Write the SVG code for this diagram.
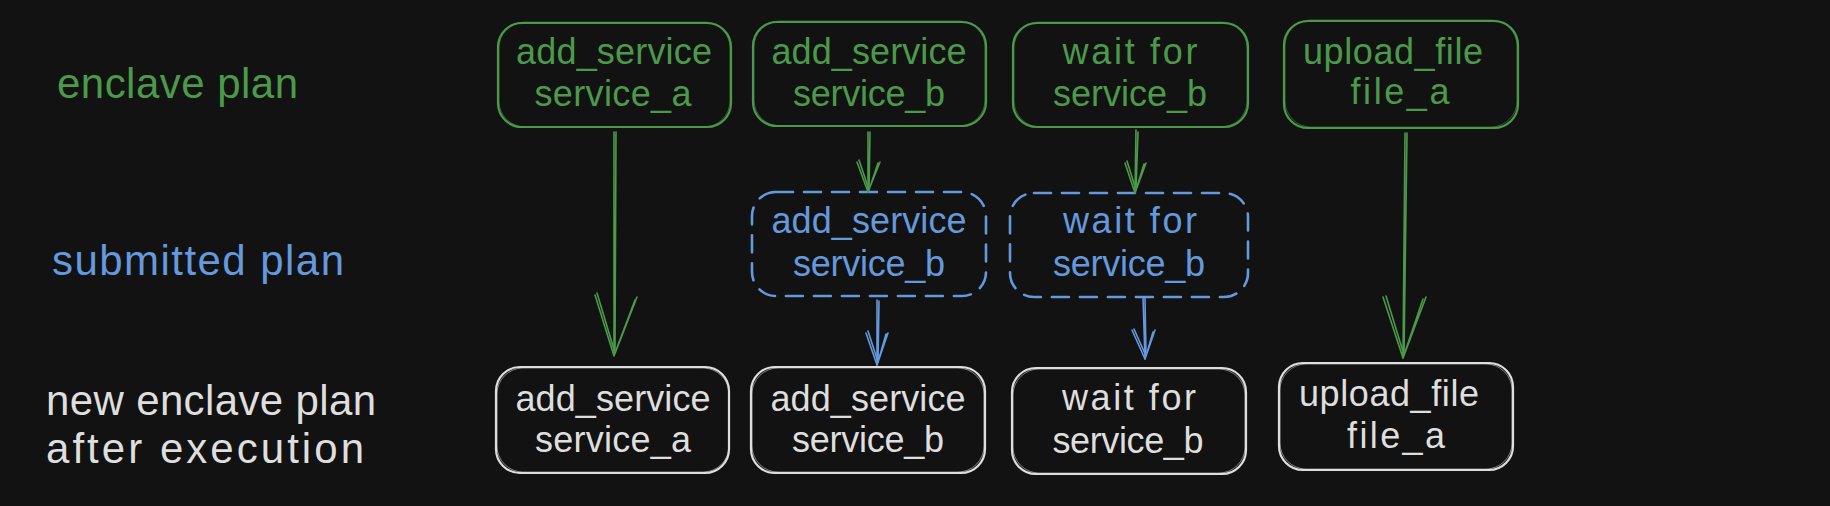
<svg xmlns="http://www.w3.org/2000/svg" width="1830" height="506" viewBox="0 0 1830 506">
<style>
.bg{fill:#121212}
.t{font-family:"Liberation Sans","DejaVu Sans",sans-serif;font-size:36px;text-anchor:middle}
.lbl{font-family:"Liberation Sans","DejaVu Sans",sans-serif;font-size:42px}
.g{fill:#4b9a4a}.b{fill:#6499de}.w{fill:#dedede}
.bx{fill:none;stroke-width:2.2}
.bx2{fill:none;stroke-width:1;opacity:.55}
.sg{stroke:#4b9a4a}.sb{stroke:#6499de}.sw{stroke:#dedede}
.dash{fill:none;stroke-width:2.6;stroke-dasharray:17 11;stroke-linecap:round}
.ln{fill:none;stroke-width:1.6;stroke-linecap:round;stroke-linejoin:round}
</style>
<rect class="bg" x="0" y="0" width="1830" height="506"/>

<g id="label-enclave"><text class="lbl g" x="57" y="98" textLength="241" lengthAdjust="spacing">enclave plan</text></g>
<g id="label-submitted"><text class="lbl b" x="52" y="275" textLength="292" lengthAdjust="spacing">submitted plan</text></g>
<g id="label-new">
<text class="lbl w" x="46" y="415" textLength="330" lengthAdjust="spacing">new enclave plan</text>
<text class="lbl w" x="46" y="463" textLength="318" lengthAdjust="spacing">after execution</text>
</g>

<g id="n1">
<rect class="bx sg" x="498" y="23" width="233" height="104" rx="24"/>
<rect class="bx2 sg" x="499" y="22" width="231" height="105" rx="26"/>
<text class="t g" x="614" y="64" textLength="196" lengthAdjust="spacing">add_service</text>
<text class="t g" x="613" y="106" textLength="157" lengthAdjust="spacing">service_a</text>
</g>
<g id="n2">
<rect class="bx sg" x="753" y="22" width="233" height="104" rx="24"/>
<rect class="bx2 sg" x="754" y="21" width="231" height="105" rx="26"/>
<text class="t g" x="869" y="64" textLength="195" lengthAdjust="spacing">add_service</text>
<text class="t g" x="869" y="106" textLength="152" lengthAdjust="spacing">service_b</text>
</g>
<g id="n3">
<rect class="bx sg" x="1013" y="23" width="235" height="104" rx="24"/>
<rect class="bx2 sg" x="1014" y="22" width="233" height="105" rx="26"/>
<text class="t g" x="1130" y="64" textLength="135" lengthAdjust="spacing">wait for</text>
<text class="t g" x="1130" y="106" textLength="154" lengthAdjust="spacing">service_b</text>
</g>
<g id="n4">
<rect class="bx sg" x="1284" y="21" width="234" height="107" rx="24"/>
<rect class="bx2 sg" x="1285" y="20" width="232" height="107" rx="26"/>
<text class="t g" x="1393" y="64" textLength="180" lengthAdjust="spacing">upload_file</text>
<text class="t g" x="1400" y="104" textLength="99" lengthAdjust="spacing">file_a</text>
</g>

<g id="n5">
<rect class="dash sb" x="752" y="192" width="234" height="104" rx="24"/>
<text class="t b" x="869" y="233" textLength="195" lengthAdjust="spacing">add_service</text>
<text class="t b" x="869" y="276" textLength="152" lengthAdjust="spacing">service_b</text>
</g>
<g id="n6">
<rect class="dash sb" x="1010" y="193" width="238" height="104" rx="24"/>
<text class="t b" x="1130" y="233" textLength="134" lengthAdjust="spacing">wait for</text>
<text class="t b" x="1129" y="276" textLength="152" lengthAdjust="spacing">service_b</text>
</g>

<g id="n7">
<rect class="bx sw" x="496" y="367" width="233" height="106" rx="24"/>
<rect class="bx2 sw" x="497" y="368" width="232" height="104" rx="26"/>
<text class="t w" x="613" y="411" textLength="195" lengthAdjust="spacing">add_service</text>
<text class="t w" x="613" y="452" textLength="156" lengthAdjust="spacing">service_a</text>
</g>
<g id="n8">
<rect class="bx sw" x="751" y="367" width="234" height="106" rx="24"/>
<rect class="bx2 sw" x="752" y="368" width="232" height="104" rx="26"/>
<text class="t w" x="868" y="411" textLength="195" lengthAdjust="spacing">add_service</text>
<text class="t w" x="868" y="452" textLength="152" lengthAdjust="spacing">service_b</text>
</g>
<g id="n9">
<rect class="bx sw" x="1012" y="368" width="234" height="106" rx="24"/>
<rect class="bx2 sw" x="1013" y="369" width="232" height="104" rx="26"/>
<text class="t w" x="1129" y="410" textLength="134" lengthAdjust="spacing">wait for</text>
<text class="t w" x="1128" y="453" textLength="151" lengthAdjust="spacing">service_b</text>
</g>
<g id="n10">
<rect class="bx sw" x="1279" y="363" width="234" height="107" rx="24"/>
<rect class="bx2 sw" x="1280" y="364" width="232" height="105" rx="26"/>
<text class="t w" x="1389" y="406" textLength="180" lengthAdjust="spacing">upload_file</text>
<text class="t w" x="1396" y="448" textLength="98" lengthAdjust="spacing">file_a</text>
</g>

<g id="connectors">
<!-- n1 -> n7 -->
<path class="ln sg" d="M614 132 L614 355 M616 132 L615 352"/>
<path class="ln sg" d="M595 295 L614 356 L637 297 M597 293 L615 353 L635 300"/>
<!-- n2 -> n5 -->
<path class="ln sg" d="M868 132 L868 192 M870 132 L869 190"/>
<path class="ln sg" d="M857 162 L868 192 L880 162 M859 160 L869 190 L878 163"/>
<!-- n3 -> n6 -->
<path class="ln sg" d="M1136 130 L1135 193 M1138 132 L1136 190"/>
<path class="ln sg" d="M1125 163 L1135 193 L1146 163 M1127 161 L1136 190 L1144 164"/>
<!-- n4 -> n10 -->
<path class="ln sg" d="M1405 133 L1403 358 M1407 133 L1404 355"/>
<path class="ln sg" d="M1383 297 L1403 358 L1426 297 M1386 296 L1404 355 L1423 299"/>
<!-- n5 -> n8 -->
<path class="ln sb" d="M877 300 L877 365 M879 301 L878 362"/>
<path class="ln sb" d="M866 333 L877 365 L888 333 M868 331 L878 362 L886 334"/>
<!-- n6 -> n9 -->
<path class="ln sb" d="M1143 297 L1145 359 M1145 298 L1146 356"/>
<path class="ln sb" d="M1132 330 L1145 359 L1155 330 M1134 329 L1146 356 L1153 332"/>
</g>
</svg>
